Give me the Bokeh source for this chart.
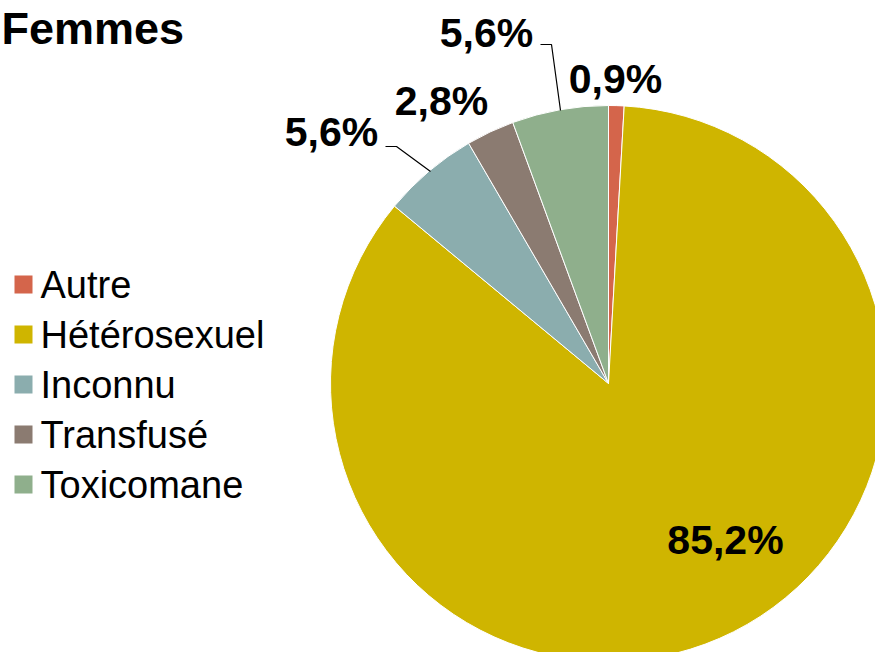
import math
from bokeh.plotting import figure
from bokeh.models import Range1d, ColumnDataSource
from bokeh.core.properties import value
from bokeh.embed import file_html
from bokeh.resources import INLINE

# ---- data ----
categories = ["Autre", "Hétérosexuel", "Inconnu", "Transfusé", "Toxicomane"]
percentages = [0.9, 85.2, 5.6, 2.8, 5.6]
labels = ["0,9%", "85,2%", "5,6%", "2,8%", "5,6%"]
colors = ["#D4654B", "#CFB500", "#8BADAE", "#8B7B71", "#8FAF8C"]
title_text = "Femmes"

FONT = value("Liberation Sans")

# figure in pixel-like coordinates (y negated so angles are standard)
W, H = 875, 652
p = figure(width=W, height=H, output_backend="svg", toolbar_location=None,
           x_range=Range1d(0, W), y_range=Range1d(-H, 0),
           min_border=0, outline_line_color=None)
p.axis.visible = False
p.grid.visible = False
p.background_fill_color = "white"

cx, cy, r = 608, -383, 278
total = sum(percentages)
starts, ends = [], []
cum = 0.0
for v in percentages:
    a0 = math.pi / 2 - 2 * math.pi * cum / total
    cum += v
    a1 = math.pi / 2 - 2 * math.pi * cum / total
    starts.append(a1)
    ends.append(a0)

src = ColumnDataSource(dict(start=starts, end=ends, color=colors, cat=categories))
p.wedge(x=cx, y=cy, radius=r, start_angle="start", end_angle="end",
        fill_color="color", line_color="white", line_width=1, source=src)

# data labels
lab_x = [615, 725, 331, 441, 486]
lab_y = [-78, -539, -131, -100, -32]
p.text(x=lab_x, y=lab_y, text=labels, text_font=FONT, text_font_size="41px",
       text_font_style="bold", text_align="center", text_baseline="middle",
       text_color="black")

# leader lines
p.line(x=[540, 551, 560], y=[-44, -44, -110], line_color="black", line_width=1.2)
p.line(x=[385, 396, 430], y=[-146, -146, -171], line_color="black", line_width=1.2)

# title
p.text(x=[1], y=[-28], text=[title_text], text_font=FONT, text_font_size="45px",
       text_font_style="bold", text_align="left", text_baseline="middle",
       text_color="black")

# legend
leg_y = [-284, -334, -384, -434, -484]
p.scatter(x=[23] * 5, y=leg_y, marker="square", size=18, fill_color=colors,
          line_color=None)
p.text(x=[40] * 5, y=leg_y, text=categories, text_font=FONT, text_font_size="38px",
       text_align="left", text_baseline="middle", text_color="black")

open("out.html", "w").write(file_html(p, INLINE))
